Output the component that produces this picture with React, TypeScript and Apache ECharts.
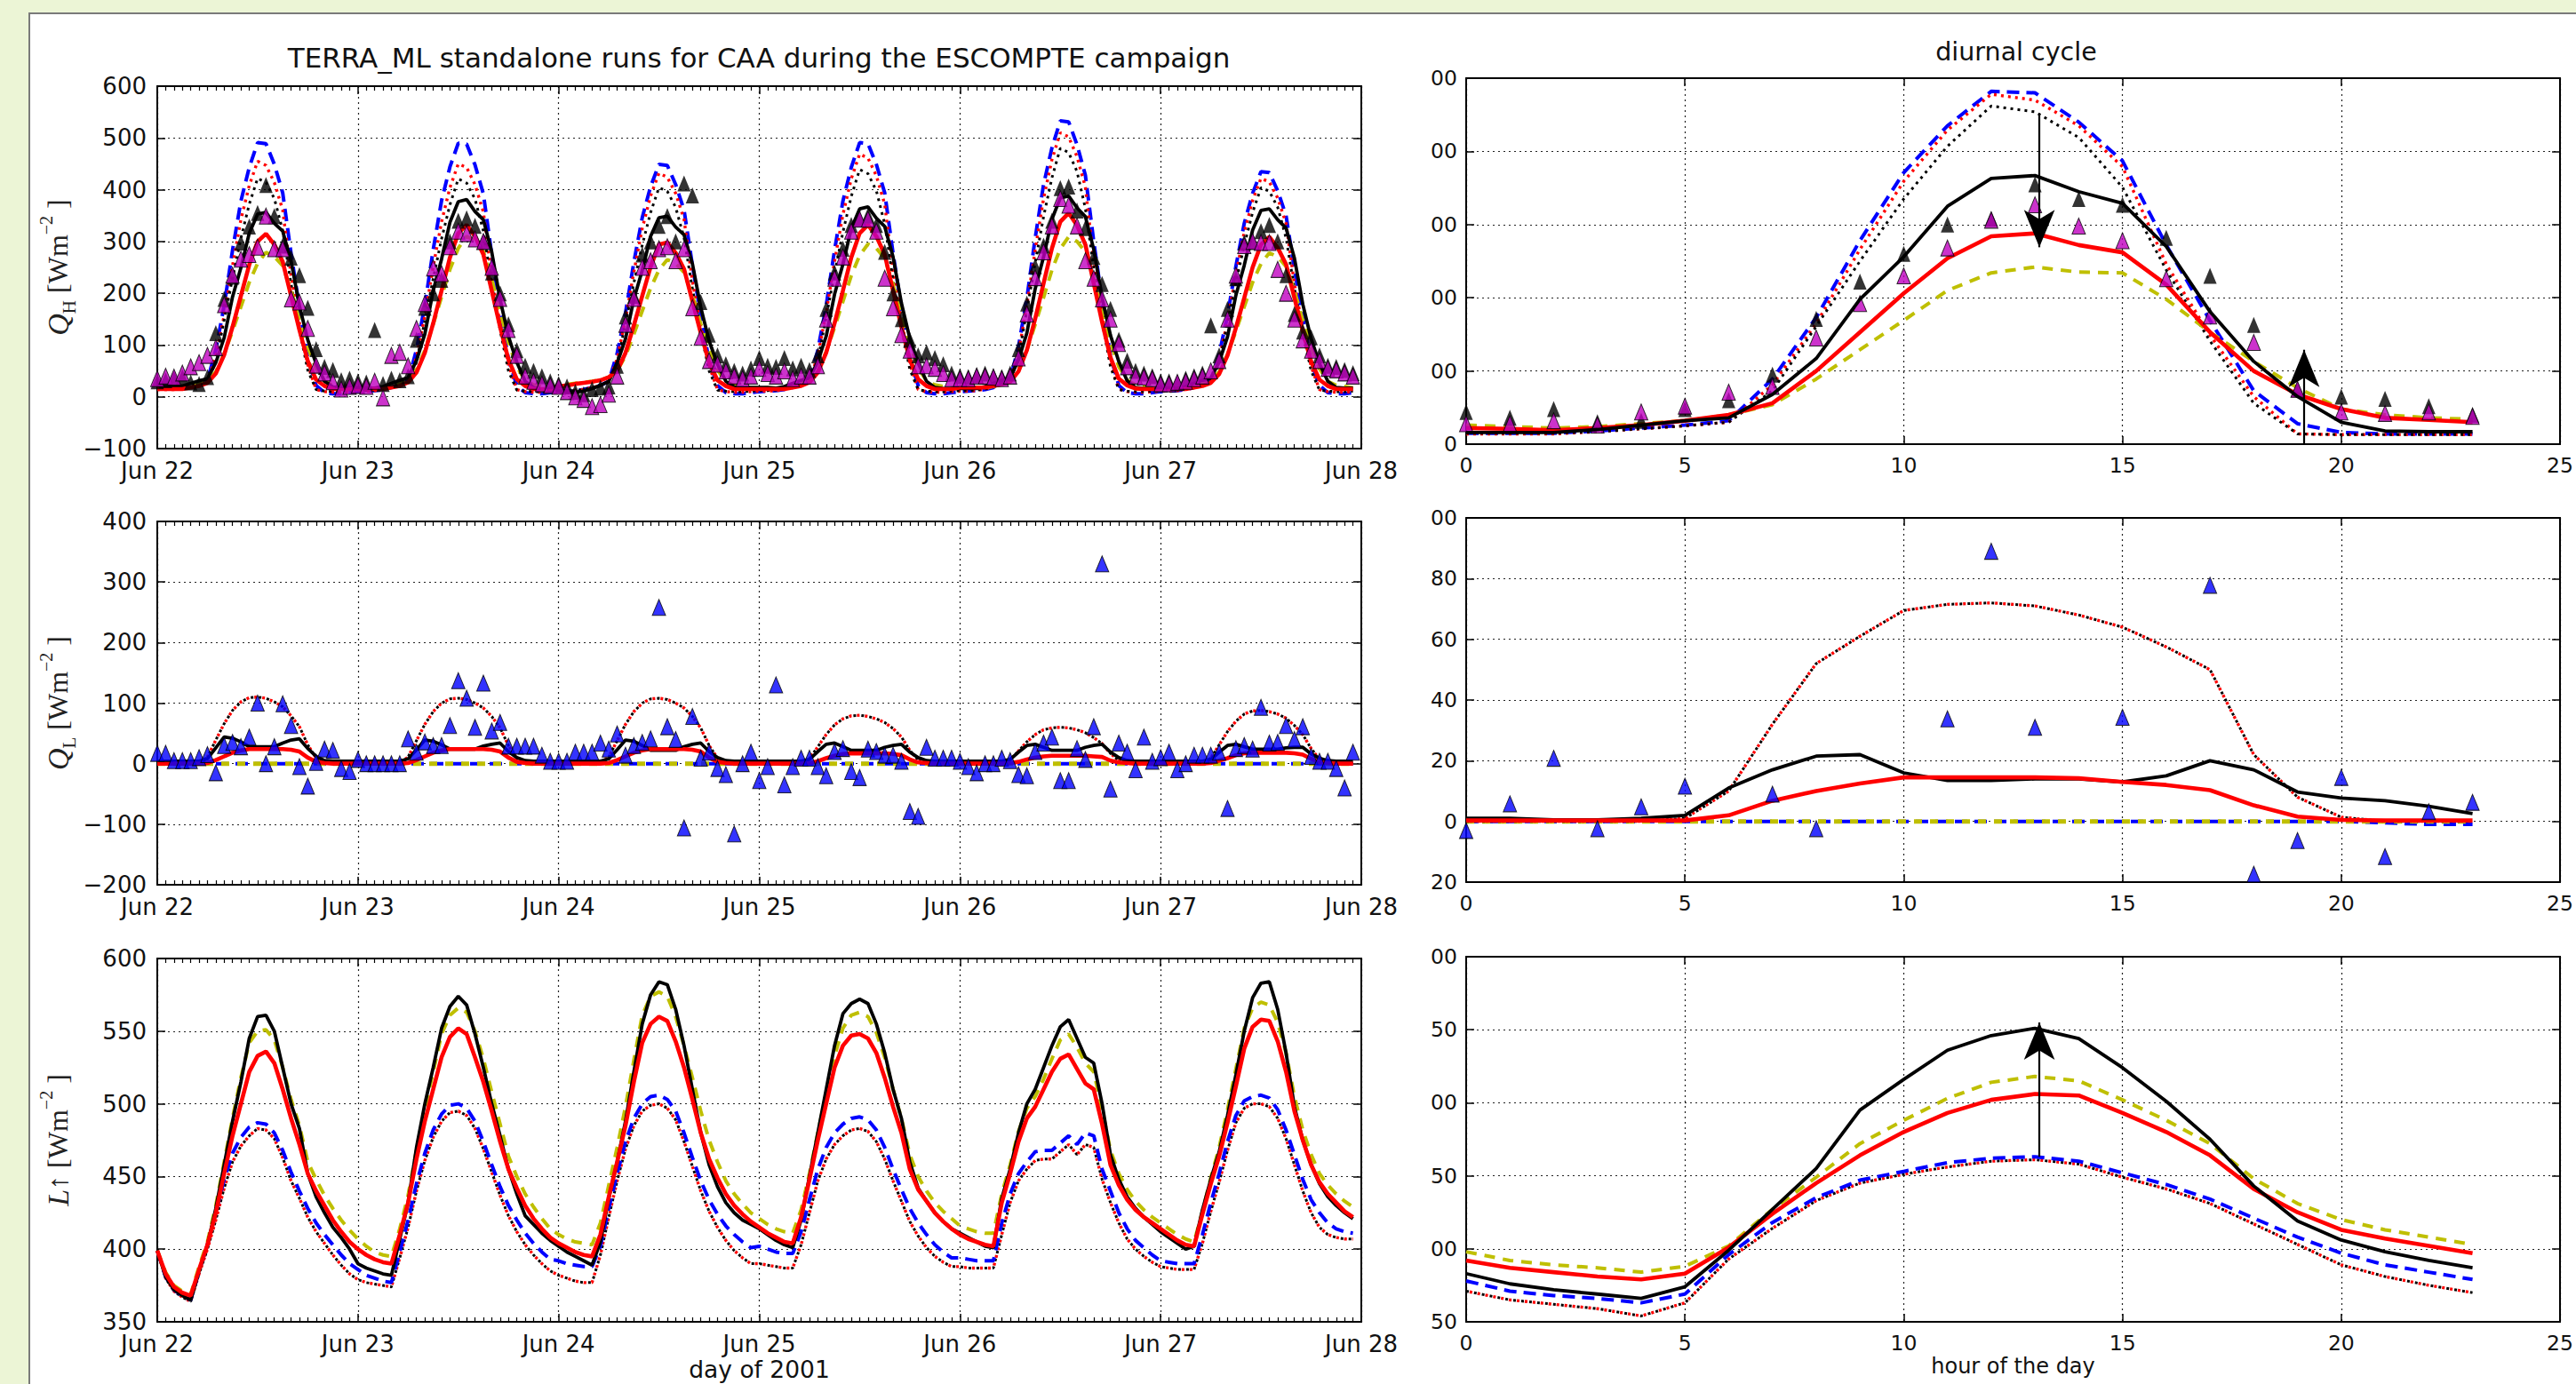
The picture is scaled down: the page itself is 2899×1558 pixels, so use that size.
import React, { useEffect, useRef } from 'react';
import * as echarts from 'echarts';

// ---------------- texts / ticks ----------------
const titleLeft = 'TERRA_ML standalone runs for CAA during the ESCOMPTE campaign';
const titleRight = 'diurnal cycle';
const dayTickLabels = ['Jun 22', 'Jun 23', 'Jun 24', 'Jun 25', 'Jun 26', 'Jun 27', 'Jun 28'];
const xNameLeft = 'day of 2001';
const xNameRight = 'hour of the day';

// ---------------- Q_H time series (hourly from Jun 22 00:00) ----------------
const qhBlueDashed = [
  15,15,15,17,21,25,32,90,176,283,378,443,491,489,449,394,277,172,74,22,8,6,6,8,
  10,11,12,14,18,23,31,91,177,284,379,444,490,488,448,392,275,170,72,22,8,6,6,8,
  10,11,12,14,18,22,30,84,162,260,346,406,449,447,410,361,254,158,69,22,8,6,6,8,
  10,11,12,14,18,24,31,90,176,283,378,443,491,489,449,394,277,172,74,22,8,6,6,8,
  10,11,12,14,18,25,33,97,190,307,410,481,533,531,487,428,300,186,79,22,8,6,6,8,
  10,11,12,14,18,24,31,82,157,252,335,393,435,433,398,350,246,154,67,22,8,6,6,8,
];
const qhRedDotted = [
  14,14,14,17,21,25,30,78,157,253,342,408,455,447,414,361,234,142,62,14,10,9,9,10,
  11,11,12,15,19,23,29,77,156,251,338,404,450,443,410,357,232,141,62,14,10,9,9,10,
  11,11,12,14,18,22,29,74,150,241,325,388,432,424,393,343,223,136,60,14,10,9,9,10,
  11,11,12,15,19,23,30,80,162,261,352,421,469,461,427,372,241,146,64,14,10,9,9,10,
  11,11,12,15,19,24,31,86,176,284,383,458,510,502,464,405,262,158,69,15,10,9,9,10,
  11,11,12,15,19,23,29,73,147,236,318,379,422,415,384,335,218,133,59,14,10,9,9,10,
];
const qhBlackDotted = [
  15,15,15,17,21,25,29,68,148,229,306,372,422,414,383,321,218,130,51,14,11,10,10,11,
  12,12,13,15,19,23,28,67,147,228,305,371,421,413,382,320,217,129,50,13,11,10,10,11,
  12,12,12,14,18,22,28,65,142,220,293,356,404,397,366,307,209,125,50,13,11,10,10,11,
  12,12,13,15,19,23,29,70,154,238,318,387,439,431,398,334,226,134,53,14,11,10,10,11,
  12,12,13,15,19,24,30,76,167,259,348,423,480,472,435,364,247,146,58,14,11,10,10,11,
  12,12,13,15,19,23,28,65,142,220,293,356,404,397,366,307,209,125,50,13,11,10,10,11,
];
const qhYellowDashed = [
  17,17,17,17,20,25,33,48,83,127,174,221,258,279,271,253,206,148,96,54,30,22,20,17,
  17,17,17,17,20,26,35,52,90,140,193,246,287,310,301,281,228,164,105,58,32,23,20,17,
  22,24,26,28,30,33,38,50,79,121,166,210,245,265,258,240,196,141,91,52,29,22,19,17,
  17,17,17,17,20,25,34,50,87,134,184,234,273,295,287,267,217,156,100,56,31,23,20,17,
  17,17,17,17,20,26,35,52,90,140,192,245,286,309,300,280,227,163,105,58,32,23,20,17,
  17,17,17,17,20,25,33,48,82,127,174,221,257,278,270,252,205,148,95,54,30,22,20,17,
];
const qhBlackSolid = [
  20,20,19,21,26,31,35,66,114,193,249,316,353,356,335,320,262,176,110,64,30,19,17,17,
  17,17,17,20,26,32,37,70,121,205,266,337,377,381,358,342,280,188,117,67,30,18,14,12,
  10,9,9,11,16,22,30,65,112,189,244,310,346,349,328,313,257,173,108,63,30,19,18,18,
  18,18,17,20,26,32,36,68,117,198,256,325,363,367,345,329,270,181,113,65,30,18,16,16,
  16,16,16,20,26,32,37,71,123,209,270,343,384,388,365,348,285,191,119,68,31,18,16,16,
  16,16,16,20,26,32,36,67,116,196,254,322,360,363,342,326,268,179,112,64,30,18,17,17,
];
const qhRedSolid = [
  15,15,15,15,18,21,27,45,81,135,195,255,300,315,294,261,195,129,69,33,21,15,15,15,
  15,15,15,15,18,21,28,47,85,142,205,269,316,332,310,275,205,135,72,34,21,15,15,15,
  20,22,25,27,29,32,38,50,85,138,195,251,294,298,278,247,185,123,66,32,21,15,15,15,
  15,15,15,15,18,21,28,47,85,142,205,269,316,332,310,275,205,135,72,34,21,15,15,15,
  18,18,18,18,21,24,29,49,90,151,219,287,338,355,331,294,219,144,76,35,22,16,15,15,
  15,15,15,15,18,21,27,44,80,133,191,250,294,309,288,256,191,127,68,33,21,15,15,15,
];
const qhObsBlack = [
  30,32,35,38,28,25,38,123,189,232,298,329,355,409,349,292,269,235,172,92,58,52,32,35,
  30,28,129,25,35,32,40,110,172,200,226,300,340,345,330,300,240,200,140,90,60,50,40,30,
  25,20,10,5,15,18,20,60,155,195,275,300,330,349,300,412,389,183,120,80,63,50,45,55,
  75,60,58,75,55,60,52,80,170,240,286,332,343,350,332,280,200,150,110,80,86,75,63,45,
  40,38,42,45,40,38,45,92,180,252,292,340,403,406,360,326,270,218,170,110,70,50,45,40,
  30,30,28,35,40,45,138,80,170,229,298,300,320,332,300,235,160,126,115,80,60,58,52,46,
];
const qhObsMagenta = [
  35,40,38,46,58,66,80,95,178,235,266,275,289,349,286,286,189,183,132,61,46,29,15,20,
  22,20,30,-2,80,86,60,132,180,249,238,290,320,315,305,300,250,190,130,80,40,30,25,22,
  20,10,0,-5,-19,-15,5,40,140,190,250,263,286,290,263,286,172,115,70,63,50,40,35,40,
  55,45,40,50,35,40,40,60,150,229,270,320,343,343,320,229,172,120,90,60,60,55,45,35,
  35,35,40,40,38,35,40,75,160,230,280,330,383,370,330,263,229,189,150,103,58,40,38,35,
  25,25,28,30,35,40,50,70,150,235,292,300,298,298,246,200,150,110,90,70,55,52,46,40,
];

// ---------------- Q_H diurnal cycle (hours 0..23) ----------------
const qhDiBlackSolid = [16,16,16,20,26,32,36,68,117,198,256,325,363,367,345,329,270,181,113,65,30,18,17,17];
const qhDiBlueDashed = [15,15,15,18,22,26,32,89,173,278,371,435,482,480,440,387,272,169,73,28,16,14,14,14];
const qhDiRedDotted = [14,14,14,17,21,25,30,81,165,266,359,429,478,470,435,379,246,149,65,14,13,13,13,13];
const qhDiBlackDotted = [15,15,15,17,21,25,30,73,161,250,335,407,462,454,419,351,238,141,56,14,13,13,13,13];
const qhDiYellowDashed = [26,24,22,24,28,32,40,54,89,129,169,210,234,242,235,234,198,153,113,77,48,40,36,34];
const qhDiRedSolid = [22,21,19,22,26,32,40,56,100,153,206,254,284,288,272,262,218,153,100,68,48,36,33,30];
const qhDiObsBlack = [44,36,48,30,32,48,60,95,171,222,260,300,308,355,335,327,282,230,163,75,65,62,52,40];
const qhDiObsMagenta = [28,28,32,26,44,52,71,79,145,192,230,268,306,327,298,278,226,175,139,75,44,42,44,38];
// arrows on the diurnal Q_H panel: [hour, from value, tip value]
const qhArrowDown = [13.1, 452, 269];
const qhArrowUp = [19.15, 0, 129];

// ---------------- Q_L time series ----------------
const qlBlackSolid = [
  4,4,4,4,4,4,8,26,44,42,36,28,28,28,28,34,39,41,25,12,5,4,4,4,
  4,4,4,4,4,4,8,23,39,37,31,24,24,24,24,29,32,34,20,10,5,4,4,4,
  4,4,4,4,4,4,8,23,39,37,30,22,22,22,22,28,32,34,20,10,5,4,4,4,
  4,4,4,4,4,4,7,20,32,34,28,22,22,22,22,27,30,32,19,10,5,4,4,4,
  4,4,4,4,4,4,7,19,30,32,27,22,22,22,22,27,30,32,19,10,5,4,4,4,
  4,4,4,4,4,4,7,19,30,32,28,24,24,24,24,26,27,27,16,9,5,4,4,4,
];
const qlRedSolid = [
  0,0,0,0,0,0,1,6,12,18,22,24,24,24,24,24,23,20,10,3,1,0,0,0,
  0,0,0,0,0,0,1,6,12,18,22,24,24,24,24,24,23,20,10,3,1,0,0,0,
  0,0,0,0,0,0,1,6,12,18,22,24,24,24,24,24,23,20,10,3,1,0,0,0,
  0,0,0,0,0,0,1,4,9,13,16,17,17,17,17,17,16,14,7,2,1,0,0,0,
  0,0,0,0,0,0,1,3,7,10,12,13,13,13,13,13,12,11,5,2,1,0,0,0,
  0,0,0,0,0,0,1,5,9,14,17,18,18,18,18,18,17,15,8,2,1,0,0,0,
];
const qlDotted = [
  0,0,0,0,0,1,11,39,66,88,102,109,110,108,102,94,79,61,31,9,1,0,0,0,
  0,0,0,0,0,1,11,38,65,86,100,107,108,106,100,92,78,59,30,9,1,0,0,0,
  0,0,0,0,0,1,11,38,65,86,100,107,108,106,100,92,78,59,30,9,1,0,0,0,
  0,0,0,0,0,1,8,28,48,64,74,79,80,78,74,68,58,44,22,6,1,0,0,0,
  0,0,0,0,0,1,6,21,36,48,56,59,60,59,56,51,43,33,17,5,1,0,0,0,
  0,0,0,0,0,1,9,31,53,70,82,87,88,86,82,75,63,48,25,7,1,0,0,0,
];
const qlZeroHours = [0, 143];
const qlZeroValues = [0, 0];
const qlObsBlue = [
  17,17,5,5,5,10,15,-15,30,35,28,44,100,0,28,99,63,-5,-37,2,24,22,-8,-13,
  7,0,0,0,0,0,41,19,36,30,30,63,137,108,60,133,54,68,29,29,29,29,14,4,
  4,4,19,19,19,34,24,49,14,30,35,41,258,61,40,-106,78,9,19,-8,-18,-116,0,19,
  -28,-5,130,-35,-5,9,9,-5,-20,20,25,-13,-23,24,20,14,14,4,-79,-87,27,9,9,9,
  4,-5,-15,0,0,9,5,-18,-20,20,34,44,-28,-28,25,7,61,330,-42,34,19,-10,44,4,
  10,19,-10,0,14,14,14,19,-74,25,30,24,93,34,35,63,40,61,12,4,4,-8,-40,19,
];

// ---------------- Q_L diurnal cycle ----------------
const qlDiBlackSolid = [1,1,0.5,0.5,1,2,11,17,21.5,22,16,13.5,13.5,14,14,13,15,20,17,9.7,7.7,6.8,5,2.6];
const qlDiRedSolid = [0.3,0.3,0.3,0.3,0.3,0.3,2,6.8,10,12.5,14.5,14.5,14.5,14.5,14.2,13,12,10.3,5.3,1.6,0.5,0.3,0.3,0.3];
const qlDiDotted = [0,0,0,0,0,1,10,32,52,61,69.5,71.5,72,71,68,64,57.5,50,22,8,1.4,0,0,0];
const qlDiBlueDashed = [0,0,0,0,0,0,0,0,0,0,0,0,0,0,0,0,0,0,0,0,0,-0.5,-1,-1];
const qlDiZeroHours = [0, 23];
const qlDiObsBlue = [-3,5.8,20.8,-2.4,4.8,11.6,null,9,-2.4,null,null,33.8,89,31,null,34.3,null,77.8,-17.4,-6.3,14.5,-11.6,3.2,6.3];

// ---------------- L-up time series ----------------
const lwBlackSolid = [
  399,381,372,368,365,385,403,428,458,488,515,545,560,561,550,525,500,483,452,436,425,415,408,400,
  390,387,385,383,382,407,432,470,500,525,552,567,574,568,548,525,500,478,455,438,423,417,411,406,
  402,398,395,392,389,405,435,460,488,522,555,575,584,582,565,540,510,480,458,443,432,425,420,417,
  414,410,406,403,401,420,450,480,510,540,562,569,572,569,555,535,510,490,460,442,433,425,419,414,
  411,408,405,402,401,435,455,480,500,510,525,540,553,558,545,532,528,500,465,448,436,428,422,417,
  412,408,404,400,402,427,448,467,492,520,550,573,583,584,565,535,498,475,458,445,436,430,425,421,
];
const lwRedSolid = [
  399,383,374,370,368,386,403,425,452,478,500,522,533,536,528,510,490,472,452,440,430,420,412,405,
  400,396,393,391,390,410,432,462,488,510,532,546,552,548,532,515,495,474,455,442,430,421,414,408,
  404,401,398,396,395,410,436,460,485,515,542,555,560,557,543,525,503,480,462,449,438,430,424,419,
  415,411,408,405,404,422,448,475,500,525,540,547,548,545,535,518,498,480,455,441,433,425,419,414,
  410,407,405,403,402,432,452,474,490,498,510,522,531,534,524,514,510,486,458,444,434,427,422,418,
  414,410,406,403,402,424,445,464,487,512,538,553,558,557,543,522,495,475,458,446,438,432,426,422,
];
const lwYellowDashed = [
  399,384,375,371,369,388,405,430,460,490,518,542,550,551,544,525,503,485,460,448,437,428,420,413,
  407,402,398,396,395,414,437,468,497,522,548,561,566,563,550,531,508,486,464,450,438,429,421,414,
  410,407,405,404,403,418,444,470,498,530,561,574,577,574,560,540,518,495,475,460,447,438,431,425,
  421,417,414,412,411,427,452,480,507,533,552,561,563,560,549,532,510,490,465,450,440,432,426,421,
  416,414,412,411,411,438,458,481,497,505,517,531,544,548,539,528,522,496,468,452,441,433,427,422,
  418,414,410,407,405,426,449,470,496,524,552,566,570,568,556,535,505,482,465,452,444,438,433,429,
];
const lwBlueDashed = [
  399,381,372,368,365,385,403,425,448,466,477,484,487,486,480,468,453,440,428,418,410,403,396,390,
  386,382,380,378,377,398,420,445,466,482,493,499,500,497,488,474,458,443,430,420,411,404,398,393,
  392,390,389,388,388,402,428,452,474,490,500,505,506,503,495,480,463,447,434,424,416,410,405,401,
  402,400,398,397,397,412,434,455,470,480,486,490,491,489,482,470,455,441,428,418,410,403,398,394,
  394,393,392,392,392,418,438,452,460,467,468,468,473,478,472,480,478,455,440,425,414,406,401,396,
  392,391,390,390,390,410,432,452,474,492,502,505,506,504,496,482,465,448,434,425,418,414,412,411,
];
const lwDotted = [
  399,380,371,367,364,383,400,420,442,460,471,478,483,482,476,463,447,435,422,412,404,396,389,383,
  379,377,376,375,374,394,415,440,461,477,488,494,495,492,483,469,453,437,423,412,403,396,390,385,
  382,380,378,377,377,396,422,447,469,485,495,499,500,497,489,474,457,440,426,415,406,399,394,390,
  390,389,388,387,387,403,425,447,462,472,478,482,483,481,474,462,447,433,419,409,401,395,391,388,
  388,387,387,387,387,410,432,447,455,461,462,462,467,472,465,472,470,448,432,418,407,400,395,391,
  388,387,386,386,386,404,426,446,468,487,497,500,500,498,490,476,458,440,425,415,410,408,407,407,
];

// ---------------- L-up diurnal cycle ----------------
const lwDiBlackSolid = [383,376,372,369,366,374,399,427,455,495,516,536,546,551,544,524,501,475,443,419,406,398,392,387];
const lwDiRedSolid = [392,387,384,381,379,383,401,424,445,464,480,493,502,506,505,493,480,464,441,425,413,407,402,397];
const lwDiYellowDashed = [398,392,389,387,384,388,402,427,449,472,488,503,514,518,515,502,488,472,448,431,420,413,408,403];
const lwDiBlueDashed = [378,371,368,366,363,369,396,418,435,447,453,459,462,463,460,452,444,434,421,408,397,389,384,379];
const lwDiDotted = [371,365,362,359,354,363,393,414,433,445,451,456,460,461,458,449,441,431,417,403,389,381,375,370];
const lwArrowUp = [13.1, 463, 555];

// ---------------- helpers (styles / layout) ----------------
const BLACK = '#000000', RED = '#ff0000', BLUE = '#0000ff', OLIVE = '#bfbf00', MAGENTA = '#bf00bf';
const st = {
  kSolid: { color: BLACK, width: 3.8, type: 'solid' },
  rSolid: { color: RED, width: 4.6, type: 'solid' },
  bDash: { color: BLUE, width: 4, type: [14, 8] },
  yDash: { color: OLIVE, width: 4, type: [12, 9] },
  rDot: { color: RED, width: 3.4, type: [3, 5] },
  kDot: { color: BLACK, width: 3, type: [3, 5] },
};

const seriesIdx = (arr: (number | null)[]) => arr.map((v, i) => [i, v]);

function line(gi: number, name: string, data: any[], ls: any, extra: any = {}) {
  return {
    type: 'line', name, xAxisIndex: 2 * gi, yAxisIndex: 2 * gi, data,
    showSymbol: false, symbol: 'none', lineStyle: ls, z: 2, silent: true, ...extra,
  };
}
function tri(gi: number, name: string, arr: (number | null)[], color: string, border: number) {
  const data: number[][] = [];
  arr.forEach((v, i) => { if (v !== null) data.push([i, v]); });
  return {
    type: 'scatter', name, xAxisIndex: 2 * gi, yAxisIndex: 2 * gi, data,
    symbol: 'triangle', symbolSize: [15, 18], z: 4, silent: true,
    itemStyle: { color, borderColor: BLACK, borderWidth: border },
  };
}
function arrowLine(pts: number[][]) {
  return {
    silent: true, animation: false, symbol: ['none', 'arrow'],
    label: { show: false },
    lineStyle: { color: BLACK, width: 2.2, type: 'solid' },
    data: pts.map((p) => [
      { coord: [p[0], p[1]], symbol: 'none' },
      { coord: [p[0], p[2]], symbol: 'arrow', symbolSize: [26, 42] },
    ]),
  };
}

const FONT = 'DejaVu Sans';
const gridSplit = { show: true, lineStyle: { color: '#222', width: 1.2, type: [2, 4] } };
const frameLine = { show: true, onZero: false, lineStyle: { color: BLACK, width: 2 } };

function xAxes(gi: number, left: boolean, name: string) {
  const fs = left ? 26 : 23.5;
  const common: any = left
    ? { min: 0, max: 144, interval: 24 }
    : { min: 0, max: 25, interval: 5 };
  const minor = left
    ? { show: true, splitNumber: 24, length: 5, lineStyle: { color: BLACK, width: 1.2 } }
    : { show: false };
  const bottom = {
    type: 'value', gridIndex: gi, position: 'bottom', ...common,
    axisLine: frameLine,
    axisTick: { show: true, inside: true, length: 9, lineStyle: { color: BLACK, width: 1.5 } },
    minorTick: minor,
    splitLine: gridSplit,
    axisLabel: {
      show: true, fontFamily: FONT, fontSize: fs, color: '#111', margin: 12, lineHeight: fs,
      showMinLabel: true, showMaxLabel: true,
      formatter: left ? (v: number) => dayTickLabels[Math.round(v / 24)] ?? '' : (v: number) => String(v),
    },
    name, nameLocation: 'middle', nameGap: left ? 40 : 38,
    nameTextStyle: { fontFamily: FONT, fontSize: left ? 26.5 : 24, color: '#111' },
  };
  const top = {
    type: 'value', gridIndex: gi, position: 'top', ...common,
    axisLine: frameLine,
    axisTick: { show: true, inside: true, length: 9, lineStyle: { color: BLACK, width: 1.5 } },
    minorTick: minor, splitLine: { show: false }, axisLabel: { show: false },
  };
  return [bottom, top];
}

const richName = {
  it: { fontFamily: 'Liberation Serif', fontStyle: 'italic', fontSize: 34, color: '#222', lineHeight: 46 },
  n: { fontFamily: 'Liberation Serif, DejaVu Serif', fontSize: 32, color: '#222', lineHeight: 46 },
  sub: { fontFamily: 'Liberation Serif', fontSize: 21, color: '#222', lineHeight: 46, verticalAlign: 'bottom' },
  sup: { fontFamily: 'Liberation Serif', fontSize: 20, color: '#222', lineHeight: 46, verticalAlign: 'top' },
};

function yAxes(gi: number, left: boolean, min: number, max: number, interval: number, name: string) {
  const fs = left ? 26 : 23.5;
  const leftAxis = {
    type: 'value', gridIndex: gi, position: 'left', min, max, interval,
    axisLine: frameLine,
    axisTick: { show: true, inside: true, length: 9, lineStyle: { color: BLACK, width: 1.5 } },
    splitLine: gridSplit,
    axisLabel: {
      show: true, fontFamily: FONT, fontSize: fs, color: '#111', margin: left ? 12 : 10, lineHeight: fs - 4,
      showMinLabel: true, showMaxLabel: true,
      formatter: left
        ? (v: number) => String(v).replace('-', '\u2212')
        : (v: number) => { const s = String(Math.abs(v)); return s.length > 2 ? s.slice(-2) : s; },
    },
    name, nameLocation: 'middle', nameGap: 89, nameRotate: 90,
    nameTextStyle: { fontFamily: 'Liberation Serif', fontSize: 32, color: '#222', lineHeight: 46, rich: richName },
  };
  const rightAxis = {
    type: 'value', gridIndex: gi, position: 'right', min, max, interval,
    axisLine: frameLine,
    axisTick: { show: true, inside: true, length: 9, lineStyle: { color: BLACK, width: 1.5 } },
    splitLine: { show: false }, axisLabel: { show: false },
  };
  return [leftAxis, rightAxis];
}

function buildOption(): any {
  const grids = [
    { left: 177, top: 97, width: 1355, height: 408 },
    { left: 177, top: 587, width: 1355, height: 409 },
    { left: 177, top: 1079, width: 1355, height: 409 },
    { left: 1650, top: 88, width: 1242, height: 412 },
    { left: 1650, top: 583, width: 1242, height: 410 },
    { left: 1650, top: 1077, width: 1242, height: 411 },
  ];
  const xAxis = [
    ...xAxes(0, true, ''), ...xAxes(1, true, ''), ...xAxes(2, true, xNameLeft),
    ...xAxes(3, false, ''), ...xAxes(4, false, ''), ...xAxes(5, false, xNameRight),
  ];
  const yAxis = [
    ...yAxes(0, true, -100, 600, 100, '{it|Q}{sub|H}{n| [Wm}{sup|\u22122}{n| ]}'),
    ...yAxes(1, true, -200, 400, 100, '{it|Q}{sub|L}{n| [Wm}{sup|\u22122}{n| ]}'),
    ...yAxes(2, true, 350, 600, 50, '{it|L}{n|\u2191 [Wm}{sup|\u22122}{n| ]}'),
    ...yAxes(3, false, 0, 500, 100, ''),
    ...yAxes(4, false, -20, 100, 20, ''),
    ...yAxes(5, false, 350, 600, 50, ''),
  ];

  const series: any[] = [
    // Q_H time series
    line(0, 'blue dashed', seriesIdx(qhBlueDashed), st.bDash),
    line(0, 'red dotted', seriesIdx(qhRedDotted), st.rDot),
    line(0, 'black dotted', seriesIdx(qhBlackDotted), st.kDot),
    line(0, 'yellow dashed', seriesIdx(qhYellowDashed), st.yDash),
    line(0, 'black solid', seriesIdx(qhBlackSolid), st.kSolid),
    line(0, 'red solid', seriesIdx(qhRedSolid), st.rSolid),
    tri(0, 'obs black', qhObsBlack, BLACK, 0),
    tri(0, 'obs magenta', qhObsMagenta, MAGENTA, 1),
    // Q_L time series
    line(1, 'blue dashed', qlZeroHours.map((h, i) => [h, qlZeroValues[i]]), st.bDash),
    line(1, 'yellow dashed', qlZeroHours.map((h, i) => [h, qlZeroValues[i]]), { ...st.yDash, width: 5, type: [9, 9] }),
    line(1, 'black dotted', seriesIdx(qlDotted), { ...st.kDot, type: [3, 6] }),
    line(1, 'red dotted', seriesIdx(qlDotted), { ...st.rDot, type: [3, 6], dashOffset: 4.5 }),
    line(1, 'black solid', seriesIdx(qlBlackSolid), st.kSolid),
    line(1, 'red solid', seriesIdx(qlRedSolid), st.rSolid),
    tri(1, 'obs blue', qlObsBlue, BLUE, 1),
    // L up time series
    line(2, 'black dotted', seriesIdx(lwDotted), { ...st.kDot, type: [3, 6] }),
    line(2, 'red dotted', seriesIdx(lwDotted), { ...st.rDot, type: [3, 6], dashOffset: 4.5 }),
    line(2, 'blue dashed', seriesIdx(lwBlueDashed), st.bDash),
    line(2, 'yellow dashed', seriesIdx(lwYellowDashed), st.yDash),
    line(2, 'black solid', seriesIdx(lwBlackSolid), st.kSolid),
    line(2, 'red solid', seriesIdx(lwRedSolid), st.rSolid),
    // Q_H diurnal
    line(3, 'blue dashed', seriesIdx(qhDiBlueDashed), st.bDash),
    line(3, 'red dotted', seriesIdx(qhDiRedDotted), st.rDot),
    line(3, 'black dotted', seriesIdx(qhDiBlackDotted), st.kDot),
    line(3, 'yellow dashed', seriesIdx(qhDiYellowDashed), st.yDash),
    line(3, 'red solid', seriesIdx(qhDiRedSolid), st.rSolid),
    tri(3, 'obs black', qhDiObsBlack, BLACK, 0),
    tri(3, 'obs magenta', qhDiObsMagenta, MAGENTA, 1),
    line(3, 'black solid', seriesIdx(qhDiBlackSolid), st.kSolid, {
      clip: false, z: 5, markLine: arrowLine([qhArrowDown, qhArrowUp]),
    }),
    // Q_L diurnal
    line(4, 'blue dashed', seriesIdx(qlDiBlueDashed), st.bDash),
    line(4, 'yellow dashed', qlDiZeroHours.map((h) => [h, 0]), { ...st.yDash, width: 5, type: [9, 9] }),
    line(4, 'black dotted', seriesIdx(qlDiDotted), { ...st.kDot, type: [3, 6] }),
    line(4, 'red dotted', seriesIdx(qlDiDotted), { ...st.rDot, type: [3, 6], dashOffset: 4.5 }),
    line(4, 'black solid', seriesIdx(qlDiBlackSolid), st.kSolid),
    line(4, 'red solid', seriesIdx(qlDiRedSolid), st.rSolid),
    tri(4, 'obs blue', qlDiObsBlue, BLUE, 1),
    // L up diurnal
    line(5, 'black dotted', seriesIdx(lwDiDotted), { ...st.kDot, type: [3, 6] }),
    line(5, 'red dotted', seriesIdx(lwDiDotted), { ...st.rDot, type: [3, 6], dashOffset: 4.5 }),
    line(5, 'blue dashed', seriesIdx(lwDiBlueDashed), st.bDash),
    line(5, 'yellow dashed', seriesIdx(lwDiYellowDashed), st.yDash),
    line(5, 'red solid', seriesIdx(lwDiRedSolid), st.rSolid),
    line(5, 'black solid', seriesIdx(lwDiBlackSolid), st.kSolid, {
      clip: false, z: 5, markLine: arrowLine([lwArrowUp]),
    }),
  ];

  return {
    animation: false,
    backgroundColor: 'transparent',
    grid: grids.map((g) => ({ ...g, containLabel: false, show: false })),
    xAxis, yAxis, series,
    graphic: [
      {
        type: 'text', x: 854, y: 65, silent: true,
        style: { text: titleLeft, fill: '#111', fontSize: 31, fontFamily: FONT, align: 'center', verticalAlign: 'middle', textAlign: 'center', textVerticalAlign: 'middle' },
      },
      {
        type: 'text', x: 2269, y: 58, silent: true,
        style: { text: titleRight, fill: '#111', fontSize: 28.5, fontFamily: FONT, align: 'center', verticalAlign: 'middle', textAlign: 'center', textVerticalAlign: 'middle' },
      },
    ],
  };
}

export default function App() {
  const ref = useRef<HTMLDivElement>(null);
  useEffect(() => {
    if (!ref.current) return;
    const chart = echarts.init(ref.current, undefined, { renderer: 'svg' });
    chart.setOption(buildOption());
    return () => chart.dispose();
  }, []);
  return (
    <div style={{ position: 'fixed', left: 0, top: 0, width: 2899, height: 1558, background: '#ecf5d6', overflow: 'hidden' }}>
      <div style={{ position: 'absolute', left: 32, top: 14, width: 2899, height: 1558, background: '#ffffff', borderLeft: '2px solid #7a7a7a', borderTop: '2px solid #7a7a7a' }} />
      <div ref={ref} style={{ position: 'absolute', left: 0, top: 0, width: 2899, height: 1558 }} />
    </div>
  );
}
